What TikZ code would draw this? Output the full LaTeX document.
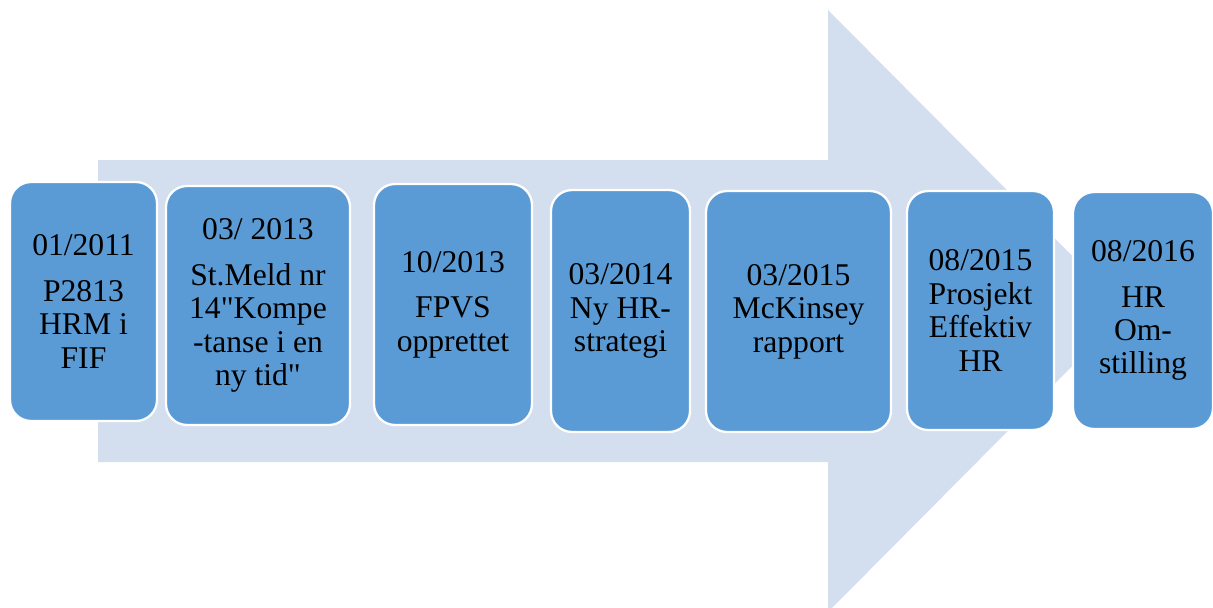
\documentclass[tikz,border=0pt]{standalone}
\usepackage{fontspec}
\setmainfont{Liberation Serif}[Ligatures=TeXOff]
\usepackage{xcolor}
\usepackage{tikz}
\definecolor{arrowgray}{HTML}{D3DEEF}
\definecolor{boxblue}{HTML}{5B9BD5}
\tikzset{
  stage/.style={draw=white, line width=1.3pt, fill=boxblue, rounded corners=0.42cm,
    align=center, inner sep=2pt, font=\fontsize{18}{19}\selectfont}
}

\begin{document}
\begin{tikzpicture}[x=0.02cm, y=-0.02cm]
    % Page frame (pixel units, y downwards)
    \useasboundingbox (0,0) rectangle (1213,608);
    \clip (0,0) rectangle (1213,608);

    % Big background arrow
    \fill[arrowgray] (98,160) -- (828,160) -- (828,10) -- (1127,311)
        -- (828,612) -- (828,462) -- (98,462) -- cycle;

    % Milestones
    \node[stage, minimum width=2.94cm, minimum height=4.78cm] (s1) at (83.5,301.5)
        {01/2011\\[7pt] P2813\\ HRM i\\ FIF};
    \node[stage, minimum width=3.68cm, minimum height=4.78cm] (s2) at (258,305.5)
        {03/ 2013\\[7pt] St.Meld nr\\ 14"Kompe\\ -tanse i en\\ ny tid"};
    \node[stage, minimum width=3.16cm, minimum height=4.82cm] (s3) at (453,304.5)
        {10/2013\\[7pt] FPVS\\ opprettet};
    \node[stage, minimum width=2.78cm, minimum height=4.84cm] (s4) at (620.5,311)
        {03/2014\\ Ny HR-\\ strategi};
    \node[stage, minimum width=3.70cm, minimum height=4.82cm] (s5) at (798.5,311.5)
        {03/2015\\ McKinsey\\ rapport};
    \node[stage, minimum width=2.94cm, minimum height=4.78cm] (s6) at (980.5,310.5)
        {08/2015\\ Prosjekt\\ Effektiv\\ HR};
    \node[stage, minimum width=2.80cm, minimum height=4.74cm] (s7) at (1143,310.5)
        {08/2016\\[7pt] HR\\ Om-\\ stilling};

\end{tikzpicture}
\end{document}
